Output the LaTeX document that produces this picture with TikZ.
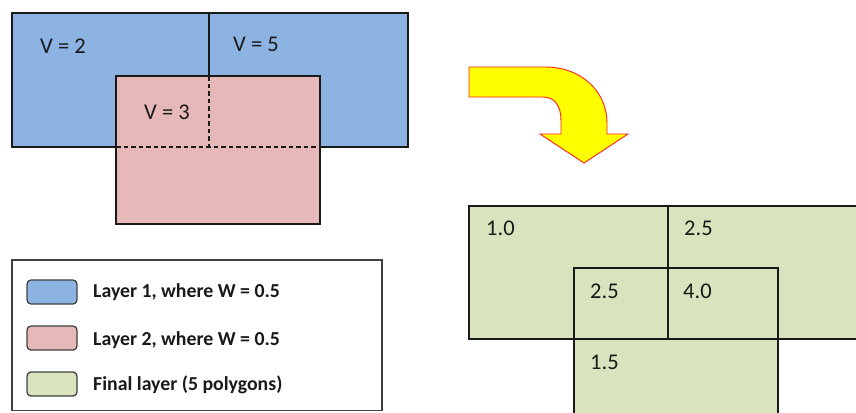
\documentclass[tikz,border=0pt]{standalone}
\usepackage{fontspec}
\setmainfont{Carlito}
\usetikzlibrary{positioning}
\definecolor{ink}{HTML}{1A1A1A}
\definecolor{frame}{HTML}{404040}
\definecolor{layera}{HTML}{8DB3E2}
\definecolor{layerb}{HTML}{E6B9B8}
\definecolor{layerc}{HTML}{D7E4BD}
\definecolor{arrowfill}{HTML}{FFFF00}
\definecolor{arrowline}{HTML}{FF2020}
\tikzset{
  edge/.style={draw=ink,line width=1.3pt},
  hidden/.style={edge,dash pattern=on 4.5pt off 3pt},
  val/.style={anchor=base west,inner sep=0pt,text=ink,font=\fontsize{22.5}{26}\selectfont},
  swatch/.style={draw=frame,line width=1.3pt,rounded corners=4pt,minimum width=50pt,minimum height=24pt,inner sep=0pt},
  key/.style={anchor=base west,inner sep=0pt,text=ink,font=\fontsize{19.8}{23}\selectfont\bfseries},
}
\begin{document}
\begin{tikzpicture}[x=1pt,y=-1pt]
  \clip (0,0) rectangle (856,412);
  % ── input layers ──
  \fill[layera] (12,13) rectangle (408,147);
  \draw[edge] (12,13) rectangle (408,147);
  \draw[edge] (209,13) -- (209,76);
  \draw[edge,fill=layerb] (116,76) rectangle (320,224);
  \draw[hidden] (209,76) -- (209,147);
  \draw[hidden] (116,147) -- (320,147);
  \node[val] (v2) at (40,54) {V = 2};
  \node[val] (v5) at (233,52) {V = 5};
  \node[val] (v3) at (144,119) {V = 3};
  % ── arrow ──
  \draw[arrowline,fill=arrowfill,line width=.9pt,line join=miter]
    (469,67) -- (545,67) .. controls (582,67) and (607,92) .. (607,123) -- (607,134)
    -- (628,134) -- (584,163) -- (540,134) -- (561,134) -- (561,121)
    .. controls (561,106) and (555,97) .. (543,97) -- (469,97) -- cycle;
  % ── result ──
  \fill[layerc] (469,206) rectangle (862,339);
  \fill[layerc] (574,268) rectangle (778,420);
  \draw[edge] (469,206) rectangle (862,339);
  \draw[edge] (574,268) rectangle (778,420);
  \draw[edge] (668,206) -- (668,339);
  \node[val] (r1) at (486,235) {1.0};
  \node[val] (r2) at (684,235) {2.5};
  \node[val] (r3) at (590,298) {2.5};
  \node[val] (r4) at (683,298) {4.0};
  \node[val] (r5) at (590,369) {1.5};
  % ── legend ──
  \draw[frame,line width=1.3pt,fill=white] (12,260) rectangle (382,410.5);
  \node[swatch,fill=layera] (ka) at (52,292) {};
  \node[swatch,fill=layerb] (kb) at (52,338) {};
  \node[swatch,fill=layerc] (kc) at (52,384) {};
  \node[key] (ta) at (93,297) {Layer 1, where W = 0.5};
  \node[key] (tb) at (93,345) {Layer 2, where W = 0.5};
  \node[key] (tc) at (93,390) {Final layer (5 polygons)};
\end{tikzpicture}
\end{document}
